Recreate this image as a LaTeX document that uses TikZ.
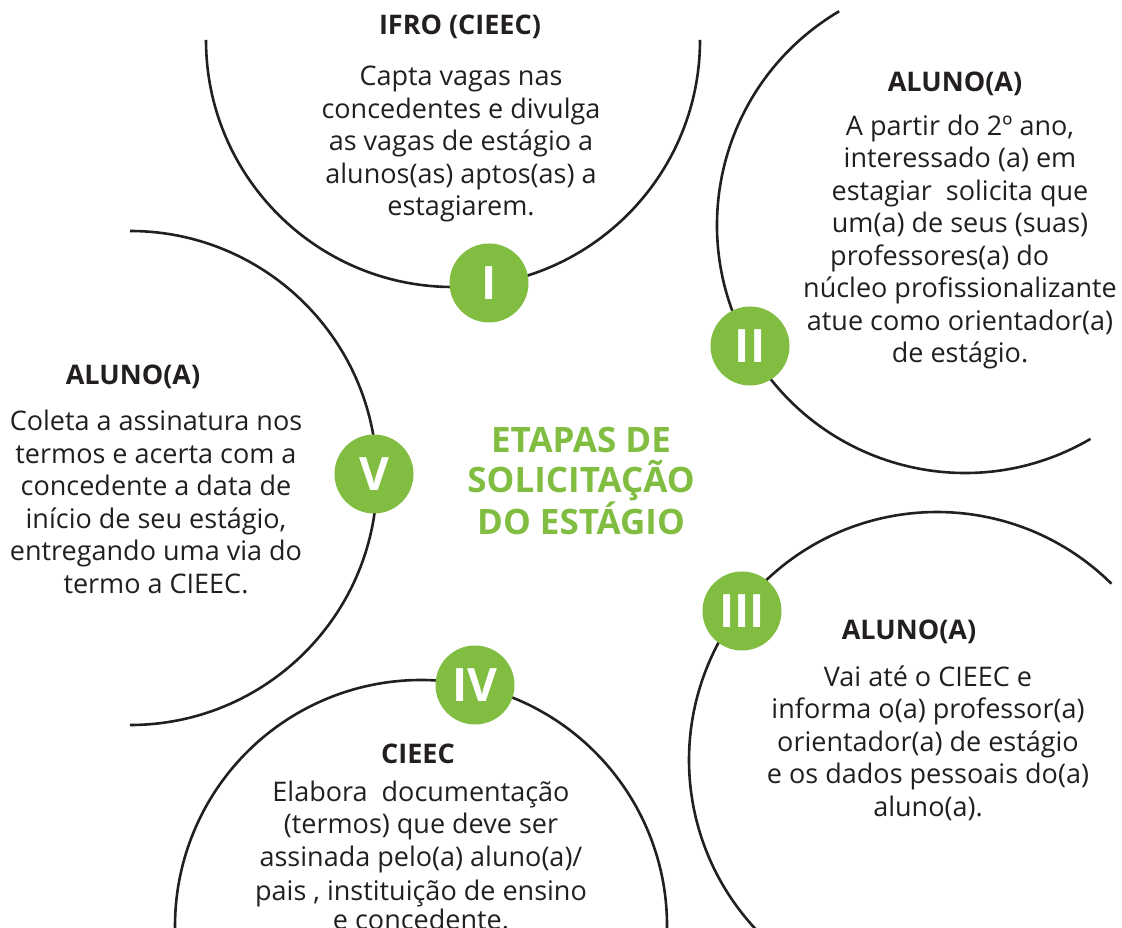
\documentclass[tikz,border=0pt]{standalone}
\usepackage{fontspec}
\setmainfont{Open Sans}
\definecolor{stepgreen}{RGB}{128,189,65}
\definecolor{darktext}{RGB}{35,31,32}

\begin{document}
\begin{tikzpicture}[x=1pt, y=1pt,
  step node/.style={circle, fill=stepgreen, minimum size=79pt, inner sep=0pt, text=white, font=\fontsize{46}{46}\selectfont\bfseries},
  head node/.style={text=darktext, inner sep=0pt, font=\fontsize{27}{32.5}\selectfont\bfseries},
  body node/.style={text=darktext, align=center, inner sep=0pt, font=\fontsize{27}{32.5}\selectfont},
  arc line/.style={line width=2.6pt, draw=darktext}]

  \useasboundingbox (0,0) rectangle (1122,927);

  % centres of the five arcs
  \coordinate (c1) at (453,887);
  \coordinate (c2) at (965,702);
  \coordinate (c3) at (937,167);
  \coordinate (c4) at (421,1);
  \coordinate (c5) at (130,449);

  \draw[arc line] (c1) ++(180:247) arc[start angle=180, end angle=360, radius=247];
  \draw[arc line] (c2) ++(120.5:248) arc[start angle=120.5, end angle=300.4, radius=248];
  \draw[arc line] (c3) ++(45.3:248) arc[start angle=45.3, end angle=232, radius=248];
  \draw[arc line] (c4) ++(-5:246) arc[start angle=-5, end angle=185, radius=246];
  \draw[arc line] (c5) ++(90:247) arc[start angle=90, end angle=-90, radius=247];

  \node[step node] (1) at (489,644) {I};
  \node[step node] (2) at (750,581) {II};
  \node[step node] (3) at (742,316) {III};
  \node[step node] (4) at (475,242) {IV};
  \node[step node] (5) at (374,453) {V};

  \node[text=stepgreen, align=center, font=\fontsize{35}{40.5}\selectfont\bfseries] (title) at (581,446)
    {ETAPAS DE\\SOLICITAÇÃO\\DO ESTÁGIO};

  \node[head node] (h1) at (460,900) {IFRO (CIEEC)};
  \node[body node] (t1) at (461,783)
    {Capta vagas nas\\concedentes e divulga\\as vagas de estágio a\\alunos(as) aptos(as) a\\estagiarem.};

  \node[head node] (h2) at (955,843) {ALUNO(A)};
  \node[body node] (t2) at (960,685)
    {A partir do 2º ano,\\interessado (a) em\\estagiar\ \ solicita que\\um(a) de seus (suas)\\professores(a) do\hspace*{1.5em}\mbox{}\\núcleo profissionalizante\\atue como orientador(a)\\de estágio.};

  \node[head node] (h3) at (909,295) {ALUNO(A)};
  \node[body node] (t3) at (928,184)
    {Vai até o CIEEC e\\informa o(a) professor(a)\\orientador(a) de estágio\\e os dados pessoais do(a)\\aluno(a).};

  \node[head node] (h4) at (418,173) {CIEEC};
  \node[body node] (t4) at (421,72)
    {Elabora\ \ documentação\\(termos) que deve ser\\assinada pelo(a) aluno(a)/\\[2pt]pais , instituição de ensino\\[-4pt]e concedente.};

  \node[head node] (h5) at (133,550) {ALUNO(A)};
  \node[body node] (t5) at (156,425)
    {Coleta a assinatura nos\\termos e acerta com a\\concedente a data de\\início de seu estágio,\\entregando uma via do\\termo a CIEEC.};

\end{tikzpicture}
\end{document}
